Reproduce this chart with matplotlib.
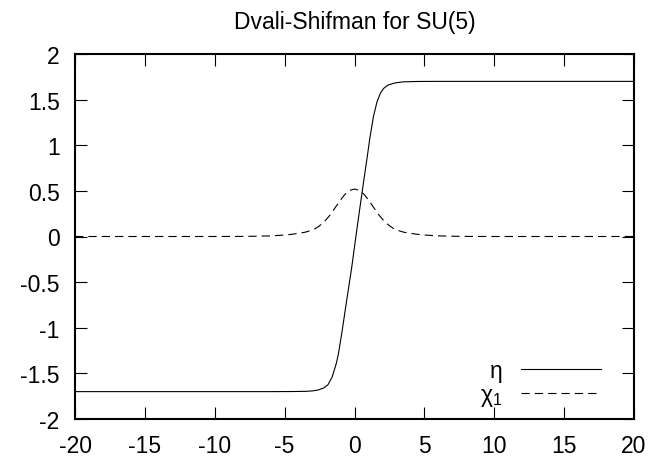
import matplotlib
matplotlib.use("Agg")
import matplotlib.pyplot as plt

plt.rcParams['font.family'] = ['Liberation Sans', 'DejaVu Sans']
plt.rcParams['mathtext.fontset'] = 'custom'
plt.rcParams['mathtext.rm'] = 'Liberation Sans'
plt.rcParams['mathtext.it'] = 'Liberation Sans'

# eta profile (solid)
eta_x = [-20, -10, -6, -4.5, -3.5, -3.0, -2.6, -2.2, -1.9, -1.6, -1.3, -1.15,
         -0.9, -0.55, -0.2, 0.1, 0.4, 0.65, 0.9, 1.1, 1.35, 1.6, 1.85, 2.1,
         2.4, 2.9, 3.5, 4.5, 6, 10, 20]
eta_y = [-1.700, -1.700, -1.700, -1.699, -1.697, -1.692, -1.682, -1.660, -1.625,
         -1.54, -1.39, -1.285, -1.05, -0.69, -0.34, 0.0, 0.33, 0.60, 0.86, 1.08,
         1.31, 1.47, 1.57, 1.625, 1.66, 1.683, 1.695, 1.699, 1.700, 1.700, 1.700]

# chi_1 profile (dashed)
chi_x = [-20, -10, -8, -7, -6, -5, -4.5, -4, -3.5, -3, -2.75, -2.5, -2.25, -2,
         -1.75, -1.5, -1.25, -1, -0.75, -0.5, -0.25, 0, 0.25, 0.5, 0.75, 1,
         1.25, 1.5, 1.75, 2, 2.25, 2.5, 2.75, 3, 3.5, 4, 4.5, 5, 6, 7, 8, 10, 20]
chi_y = [0.0, 0.0, 0.001, 0.003, 0.007, 0.016, 0.024, 0.035, 0.048, 0.072,
         0.092, 0.118, 0.15, 0.19, 0.235, 0.29, 0.345, 0.40, 0.45, 0.49, 0.51,
         0.52, 0.51, 0.49, 0.45, 0.40, 0.345, 0.29, 0.235, 0.19, 0.15, 0.118,
         0.092, 0.072, 0.048, 0.035, 0.024, 0.016, 0.007, 0.003, 0.001, 0.0, 0.0]

x_ticks = [-20, -15, -10, -5, 0, 5, 10, 15, 20]
y_ticks = [-2, -1.5, -1, -0.5, 0, 0.5, 1, 1.5, 2]
y_tick_labels = ['-2', '-1.5', '-1', '-0.5', '0', '0.5', '1', '1.5', '2']

fig = plt.figure(figsize=(6.56, 4.64), dpi=100)
ax = fig.add_axes([75 / 656, 44 / 464, 559 / 656, 365 / 464])

ax.plot(eta_x, eta_y, color='black', lw=0.8, label='η')
ax.plot(chi_x, chi_y, color='black', lw=0.8, dashes=(7.5, 4.5),
        label=r'χ$_{\mathregular{1}}$')

ax.set_xlim(-20, 20)
ax.set_ylim(-2, 2)
ax.set_xticks(x_ticks)
ax.set_xticklabels([str(t) for t in x_ticks])
ax.set_yticks(y_ticks)
ax.set_yticklabels(y_tick_labels)
ax.tick_params(direction='in', length=8.4, width=0.8, top=True, right=True,
               labelsize=16.5, color='black')
ax.tick_params(axis='x', pad=11)
ax.tick_params(axis='y', pad=11)
for sp in ax.spines.values():
    sp.set_linewidth(1.5)

ax.set_title('Dvali-Shifman for SU(5)', fontsize=16.5, pad=19)

ax.legend(loc='lower right', bbox_to_anchor=(526 / 559, 0.03),
          frameon=False, markerfirst=False, fontsize=16.5, handlelength=3.5,
          handletextpad=0.8, borderpad=0, borderaxespad=0, labelspacing=0.05)

fig.savefig('out.png', dpi=100)
